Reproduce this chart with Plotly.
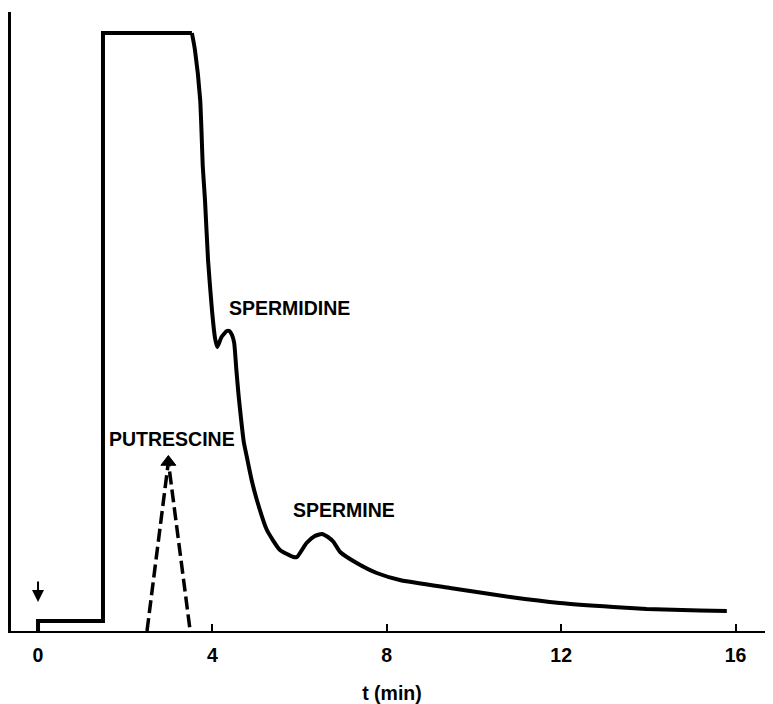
import plotly.graph_objects as go

# Main chromatogram trace (time in min, detector signal in arbitrary units)
# step / plateau part
t_step = [0, 0, 1.49, 1.49, 3.53]
s_step = [0, 10, 10, 598, 598]
# tailing part with spermidine and spermine peaks
t_tail = [3.53, 3.60, 3.72, 3.78, 3.83, 3.90, 3.99, 4.06, 4.11,
          4.21, 4.33, 4.39, 4.45, 4.50, 4.55, 4.60, 4.66, 4.72, 4.79, 4.90,
          5.02, 5.25, 5.55, 5.86,
          5.94, 6.16, 6.35, 6.51, 6.65, 6.78, 6.93, 7.31, 7.77, 8.30, 9.45, 10.83,
          11.97, 13.20, 13.96, 15.18, 15.80]
s_tail = [598, 581, 531, 464, 431, 371, 321, 293, 284,
          294, 300, 300, 296, 288, 261, 236, 211, 189, 174, 151,
          131, 101, 81, 74,
          74, 88, 95, 97, 94, 89, 79, 68, 58, 51, 43, 34,
          28, 24, 22, 20.5, 20]

# Putrescine standard (dashed)
t_put = [2.50, 2.99, 3.49]
s_put = [0, 169, 0]

# Peak labels
peak_names = ["SPERMIDINE", "PUTRESCINE", "SPERMINE"]
peak_x = [5.78, 3.07, 7.02]
peak_y = [323, 192, 121]

x_ticks = [0, 4, 8, 12, 16]
x_title = "t (min)"
inject_t = 0
inject_s = 29

FONT = dict(family="Liberation Sans, Arial, sans-serif", color="black", size=19.5, weight="bold")

fig = go.Figure()
fig.add_trace(go.Scatter(x=t_step, y=s_step, mode="lines",
                         line=dict(color="black", width=4), hoverinfo="skip"))
fig.add_trace(go.Scatter(x=t_tail, y=s_tail, mode="lines",
                         line=dict(color="black", width=4, shape="spline", smoothing=0.5),
                         hoverinfo="skip"))
fig.add_trace(go.Scatter(x=t_put, y=s_put, mode="lines",
                         line=dict(color="black", width=3.5, dash="13px,5px"),
                         hoverinfo="skip"))
fig.add_trace(go.Scatter(x=[t_put[1]], y=[s_put[1]], mode="markers",
                         marker=dict(symbol="triangle-up", size=13, color="black",
                                     opacity=1, line=dict(width=1, color="black")),
                         hoverinfo="skip"))

for name, x, y in zip(peak_names, peak_x, peak_y):
    fig.add_annotation(x=x, y=y, text=name, showarrow=False, font=FONT,
                       xanchor="center", yanchor="middle")

fig.add_annotation(x=inject_t, y=inject_s, ax=0, ay=-22, axref="pixel", ayref="pixel",
                   showarrow=True, arrowhead=2, arrowsize=1.2, arrowwidth=2,
                   arrowcolor="black", text="")

# page body has an 8px margin, so the figure is sized/placed to compensate
fig.update_layout(
    width=765, height=696,
    margin=dict(l=3, r=0, t=4, b=73),
    plot_bgcolor="white", paper_bgcolor="white",
    showlegend=False,
    font=FONT,
)
fig.update_xaxes(range=[-0.62, 16.86], tickvals=x_ticks, ticktext=[str(v) for v in x_ticks],
                 ticks="inside", ticklen=7, tickwidth=2, tickcolor="black",
                 showline=True, linecolor="black", linewidth=2, showgrid=False,
                 zeroline=False, tickfont=FONT, ticklabelstandoff=6,
                 title=dict(text=x_title, font=FONT, standoff=24))
fig.update_yaxes(range=[0, 619], showticklabels=False, ticks="",
                 showline=True, linecolor="black", linewidth=2.5, showgrid=False,
                 zeroline=False)

fig.write_html("out.html",
               post_script="document.documentElement.style.overflow='hidden';"
                           "document.body.style.overflow='hidden';")
